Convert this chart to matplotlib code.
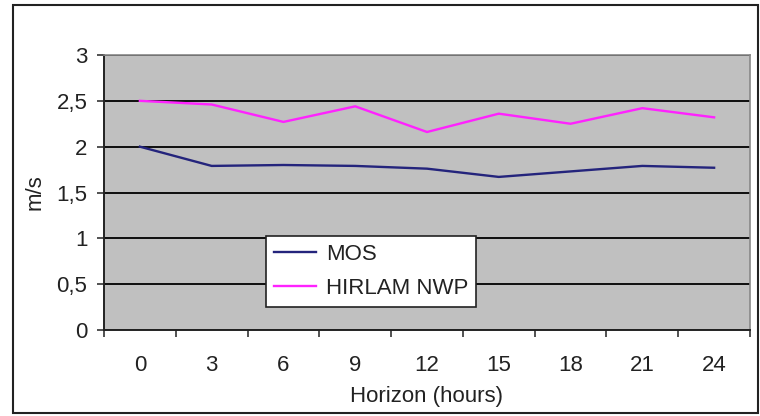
import matplotlib
matplotlib.use("Agg")
import matplotlib.pyplot as plt
from matplotlib.patches import Rectangle
from matplotlib.ticker import FixedLocator, FuncFormatter

hours = [0, 3, 6, 9, 12, 15, 18, 21, 24]
mos = [2.00, 1.79, 1.80, 1.79, 1.76, 1.67, 1.73, 1.79, 1.77]
hirlam = [2.50, 2.46, 2.27, 2.44, 2.16, 2.36, 2.25, 2.42, 2.32]
y_ticks = [0, 0.5, 1, 1.5, 2, 2.5, 3]
series_names = ["MOS", "HIRLAM NWP"]

plt.rcParams['font.family'] = ['Liberation Sans', 'DejaVu Sans']
FS = 16
W, H = 760, 416
fig = plt.figure(figsize=(W / 100, H / 100), dpi=100)
fig.patch.set_facecolor('white')

left, right, top, bottom = 104, 750, 55, 330
ax = fig.add_axes([left / W, 1 - bottom / H, (right - left) / W, (bottom - top) / H])
ax.set_facecolor('#c0c0c0')

ax.plot(hours, mos, color='#24247c', lw=1.7, label=series_names[0])
ax.plot(hours, hirlam, color='#ff22ff', lw=1.7, label=series_names[1])

ax.set_xlim(-1.5, 25.5)
ax.set_ylim(0, 3)

ax.set_yticks(y_ticks)
ax.yaxis.set_major_formatter(FuncFormatter(lambda v, p: ('%g' % v).replace('.', ',')))
ax.yaxis.grid(True, color='black', lw=1.3)
ax.set_axisbelow(True)

ax.xaxis.set_major_locator(FixedLocator([-1.5 + 3 * k for k in range(10)]))
ax.xaxis.set_major_formatter(FuncFormatter(lambda v, p: ''))
ax.xaxis.set_minor_locator(FixedLocator(hours))
ax.xaxis.set_minor_formatter(FuncFormatter(lambda v, p: '%d' % v))
ax.tick_params(axis='x', which='major', direction='out', length=5, width=1.2, color='#333333')
ax.tick_params(axis='x', which='minor', length=0, pad=18, labelsize=FS, labelcolor='#222222')
ax.tick_params(axis='y', direction='out', length=5, width=1.2, pad=7, labelsize=FS,
               labelcolor='#222222', color='#333333')

for s in ['top', 'right']:
    ax.spines[s].set_color('#888888')
    ax.spines[s].set_linewidth(1.2)
for s in ['left', 'bottom']:
    ax.spines[s].set_color('#222222')
    ax.spines[s].set_linewidth(1.4)

ax.set_ylabel('m/s', fontsize=FS, color='#222222', labelpad=8)
ax.set_xlabel('Horizon (hours)', fontsize=FS, color='#222222', labelpad=7)

leg = ax.legend(loc='upper left', bbox_to_anchor=((266 - left) / (right - left), (bottom - 236) / (bottom - top)),
                borderaxespad=0, fancybox=False, frameon=True, edgecolor='#222222', facecolor='white',
                framealpha=1, fontsize=FS, handlelength=1.9, handletextpad=0.45, labelspacing=0.6,
                borderpad=0.35)
leg.get_frame().set_linewidth(1.2)
for t in leg.get_texts():
    t.set_color('#222222')

fig.patches.append(Rectangle((13 / W, 3 / H), (758 - 13) / W, (411 - 3) / H, transform=fig.transFigure,
                             fill=False, edgecolor='#222222', lw=1.5))

fig.savefig('out.png', dpi=100)
